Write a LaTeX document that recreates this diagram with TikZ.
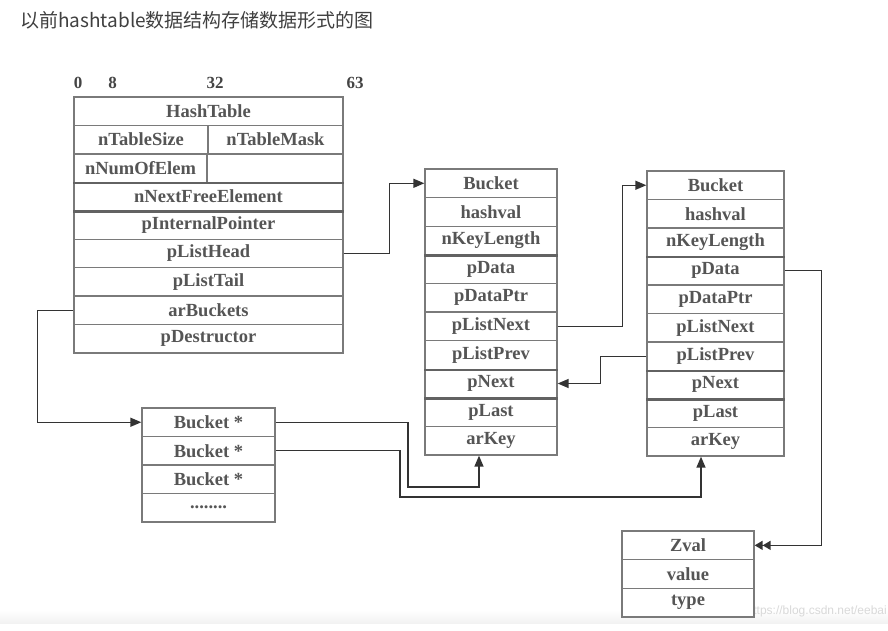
\documentclass[tikz,border=0pt]{standalone}
\usepackage{fontspec}
\setmainfont{Liberation Serif}
\newfontfamily\cjkfont{Noto Sans CJK SC}
\newfontfamily\wmfont{Liberation Sans}
\usetikzlibrary{arrows.meta,calc}
\definecolor{boxline}{HTML}{7A7A7A}
\definecolor{txt}{HTML}{555555}
\definecolor{conncol}{HTML}{333333}
\begin{document}
\begin{tikzpicture}[x=1pt,y=-1pt,
  cell/.style={draw=boxline, line width=1.3pt, fill=white, inner sep=0pt, text=txt,
    font=\fontsize{18.5}{20}\selectfont\bfseries},
  thick sep/.style={draw=boxline!80!black, line width=2.4pt},
  conn/.style={draw=conncol, line width=1.4pt},
  tip/.style={-{Triangle[length=11pt,width=9pt]}},
  dtip/.style={-{Triangle[length=8pt,width=9pt]Triangle[length=8pt,width=9pt]}},
  bitlbl/.style={text=txt!80!black, font=\fontsize{17}{19}\selectfont\bfseries, inner sep=0pt}]
\useasboundingbox (0,0) rectangle (888,631);
\fill[white] (0,0) rectangle (888,631);
\shade[top color=white, bottom color=black!5] (0,610) rectangle (888,623);

% title
\node[anchor=west, inner sep=0pt, text=black!75, font=\cjkfont\fontsize{19}{21}\selectfont] (title) at (20,20) {以前hashtable数据结构存储数据形式的图};

% watermark
\node[anchor=base west, inner sep=0pt, text=black!15, font=\wmfont\fontsize{12}{14}\selectfont] (wm) at (746.5,614) {https://blog.csdn.net/eebai};

% bit labels
\node[bitlbl] (n0) at (78,83) {0};
\node[bitlbl] (n8) at (112.5,83) {8};
\node[bitlbl] (n32) at (215,83) {32};
\node[bitlbl] (n63) at (355,83) {63};

% HashTable
\def\hh{28.44}
\node[cell, minimum width=269, minimum height=\hh] (htTitle) at (208.5,{97+\hh*0.5}) {HashTable};
\node[cell, minimum width=134, minimum height=\hh] (htSize) at (141,{97+\hh*1.5}) {nTableSize};
\node[cell, minimum width=135, minimum height=\hh] (htMask) at (275.5,{97+\hh*1.5}) {nTableMask};
\node[cell, minimum width=133, minimum height=\hh] (htNum) at (140.5,{97+\hh*2.5}) {nNumOfElem};
\node[cell, minimum width=136, minimum height=\hh] (htEmpty) at (275,{97+\hh*2.5}) {};
\foreach \nm/\tx [count=\i from 4] in {htFree/nNextFreeElement, htInt/pInternalPointer, htHead/pListHead, htTail/pListTail, htAr/arBuckets, htDes/pDestructor}
  \node[cell, minimum width=269, minimum height=\hh] (\nm) at (208.5,{97+\hh*(\i-0.5)}) {\tx};
\draw[thick sep] (htNum.south west) -- (htEmpty.south east);
\draw[thick sep] (htFree.south west) -- (htFree.south east);

% Bucket 1
\def\bh{28.6}
\foreach \nm/\tx [count=\i] in {Bucket/Bucket, Hash/hashval, KeyLen/nKeyLength, Data/pData, DataPtr/pDataPtr, ListNext/pListNext, ListPrev/pListPrev, Next/pNext, Last/pLast, Key/arKey}
  \node[cell, minimum width=132, minimum height=\bh] (bA\nm) at (491,{169+\bh*(\i-0.5)}) {\tx};
\draw[thick sep] (bAKeyLen.south west) -- (bAKeyLen.south east);
\draw[thick sep] (bAListPrev.south west) -- (bAListPrev.south east);
\draw[thick sep] (bANext.south west) -- (bANext.south east);

% Bucket 2
\def\ch{28.5}
\foreach \nm/\tx [count=\i] in {Bucket/Bucket, Hash/hashval, KeyLen/nKeyLength, Data/pData, DataPtr/pDataPtr, ListNext/pListNext, ListPrev/pListPrev, Next/pNext, Last/pLast, Key/arKey}
  \node[cell, minimum width=137, minimum height=\ch] (bB\nm) at (715.5,{171+\ch*(\i-0.5)}) {\tx};
\draw[thick sep] (bBKeyLen.south west) -- (bBKeyLen.south east);
\draw[thick sep] (bBListPrev.south west) -- (bBListPrev.south east);
\draw[thick sep] (bBNext.south west) -- (bBNext.south east);

% Bucket * array
\foreach \nm/\tx [count=\i] in {arA/Bucket *, arB/Bucket *, arC/Bucket *, arD/{........}}
  \node[cell, minimum width=133, minimum height=28.5] (\nm) at (208.5,{408+28.5*(\i-0.5)}) {\tx};

% Zval
\foreach \nm/\tx [count=\i] in {zvA/Zval, zvB/value, zvC/type}
  \node[cell, minimum width=132, minimum height=28.7] (\nm) at (688,{531+28.7*(\i-0.5)}) {\tx};

% connectors
\draw[conn, tip] (htHead.east) -- ++(46,0) |- (bABucket.west);
\draw[conn, tip] (htAr.west) -- ++(-36,0) |- (arA.west);
\draw[conn, tip] (bAListNext.east) -- ++(65,0) |- (bBBucket.west);
\draw[conn, tip] (bBListPrev.west) -- ++(-46,0) |- (bANext.east);
\draw[conn, dtip] (bBData.east) -- ++(37,0) |- (zvA.east);

\coordinate (k1) at (408,487);
\coordinate (a1) at ([xshift=-12pt]bAKey.south);
\draw[conn, tip] (arA.east) -| (k1) -| (a1);
\coordinate (k2) at (400,497);
\coordinate (a2) at ([xshift=-14.5pt]bBKey.south);
\draw[conn, tip] (arB.east) -| (k2) -| (a2);
\end{tikzpicture}
\end{document}
